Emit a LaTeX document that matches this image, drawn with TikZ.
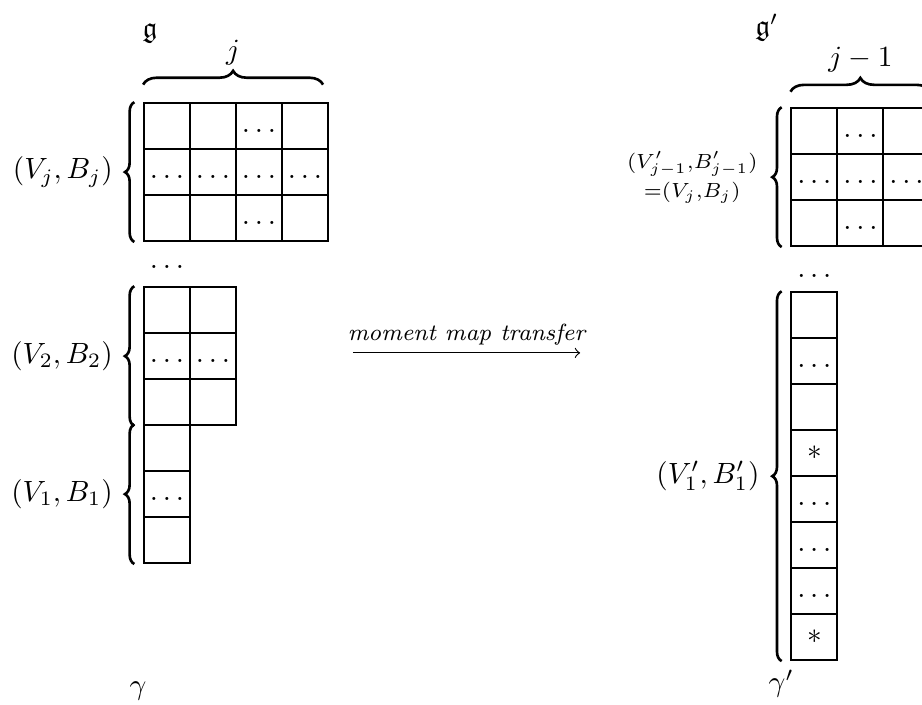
\documentclass[tikz,border=0pt]{standalone}
\usepackage{amssymb}
\usetikzlibrary{decorations.pathreplacing,arrows}

\begin{document}
\begin{tikzpicture}[x=0.552cm, y=-0.552cm,
					cell/.style={draw, semithick, minimum size=0.552cm, inner sep=0pt, text height=1.2ex, text depth=0.25ex},
					sidebrace/.style={decorate, decoration={brace, amplitude=3.2pt}, line width=0.9pt},
					topbrace/.style={decorate, decoration={brace, amplitude=4.7pt}, line width=0.9pt}]
    \clip (-3.13,-2.24) rectangle (16.91,13.07);
    % Place nodes
    \node (gl) at (0.13,-1.52) {$\mathfrak{g}$};
    \node (gr) at (13.54,-1.64) {$\mathfrak{g}'$};
    \node (gaml) at (-0.13,12.78) {$\gamma$};
    \node (gamr) at (13.85,12.62) {$\gamma'$};
    % block (V_j,B_j)
    \node [cell] (a11) at (0.5,0.5) {};
    \node [cell] (a12) at (1.5,0.5) {};
    \node [cell] (a13) at (2.5,0.5) {$\ldots$};
    \node [cell] (a14) at (3.5,0.5) {};
    \node [cell] (a21) at (0.5,1.5) {$\ldots$};
    \node [cell] (a22) at (1.5,1.5) {$\ldots$};
    \node [cell] (a23) at (2.5,1.5) {$\ldots$};
    \node [cell] (a24) at (3.5,1.5) {$\ldots$};
    \node [cell] (a31) at (0.5,2.5) {};
    \node [cell] (a32) at (1.5,2.5) {};
    \node [cell] (a33) at (2.5,2.5) {$\ldots$};
    \node [cell] (a34) at (3.5,2.5) {};
    \node (ldots) at (0.5,3.56) {$\ldots$};
    % block (V_2,B_2)
    \node [cell] (b11) at (0.5,4.5) {};
    \node [cell] (b12) at (1.5,4.5) {};
    \node [cell] (b21) at (0.5,5.5) {$\ldots$};
    \node [cell] (b22) at (1.5,5.5) {$\ldots$};
    \node [cell] (b31) at (0.5,6.5) {};
    \node [cell] (b32) at (1.5,6.5) {};
    % block (V_1,B_1)
    \node [cell] (c1) at (0.5,7.5) {};
    \node [cell] (c2) at (0.5,8.5) {$\ldots$};
    \node [cell] (c3) at (0.5,9.5) {};
    % block (V'_{j-1},B'_{j-1})
    \node [cell] (d11) at (14.57,0.61) {};
    \node [cell] (d12) at (15.57,0.61) {$\ldots$};
    \node [cell] (d13) at (16.57,0.61) {};
    \node [cell] (d21) at (14.57,1.61) {$\ldots$};
    \node [cell] (d22) at (15.57,1.61) {$\ldots$};
    \node [cell] (d23) at (16.57,1.61) {$\ldots$};
    \node [cell] (d31) at (14.57,2.61) {};
    \node [cell] (d32) at (15.57,2.61) {$\ldots$};
    \node [cell] (d33) at (16.57,2.61) {};
    \node (rdots) at (14.57,3.76) {$\ldots$};
    % block (V'_1,B'_1)
    \node [cell] (e1) at (14.57,4.61) {};
    \node [cell] (e2) at (14.57,5.61) {$\ldots$};
    \node [cell] (e3) at (14.57,6.61) {};
    \node [cell] (e4) at (14.57,7.61) {$*$};
    \node [cell] (e5) at (14.57,8.61) {$\ldots$};
    \node [cell] (e6) at (14.57,9.61) {$\ldots$};
    \node [cell] (e7) at (14.57,10.61) {$\ldots$};
    \node [cell] (e8) at (14.57,11.61) {$*$};
    % Draw braces
    \draw[topbrace] ([yshift=6pt]a11.north west) -- ([xshift=-2pt,yshift=6pt]a14.north east) node[midway, above=3pt] {$j$};
    \draw[topbrace] ([yshift=5.3pt]d11.north west) -- ([yshift=5.3pt]d13.north east) node[midway, above=3pt] {$j-1$};
    \draw[sidebrace] ([xshift=-3pt]a31.south west) -- ([xshift=-3pt]a11.north west) node[midway, left=3.6pt] {$(V_j,B_j)$};
    \draw[sidebrace] ([xshift=-3pt]b31.south west) -- ([xshift=-3pt]b11.north west) node[midway, left=3.6pt] {$(V_2,B_2)$};
    \draw[sidebrace] ([xshift=-3pt]c3.south west) -- ([xshift=-3pt]c1.north west) node[midway, left=3.6pt] {$(V_1,B_1)$};
    \draw[sidebrace] ([xshift=-3pt]d31.south west) -- ([xshift=-3pt]d11.north west) node[midway, left=4.5pt, align=center] {$\scriptstyle (V'_{j-1},B'_{j-1})$\\[-2pt]$\scriptstyle =(V_j,B_j)$};
    \draw[sidebrace] ([xshift=-3pt]e8.south west) -- ([xshift=-3pt]e1.north west) node[midway, left=3.8pt] {$(V'_1,B'_1)$};
    % Draw edges
    \coordinate (mstart) at (4.54,5.43);
    \coordinate (mend) at (9.48,5.43);
    \draw[->] (mstart) -- node[midway, above=-1pt] {\footnotesize\itshape moment map transfer} (mend);

\end{tikzpicture}
\end{document}
